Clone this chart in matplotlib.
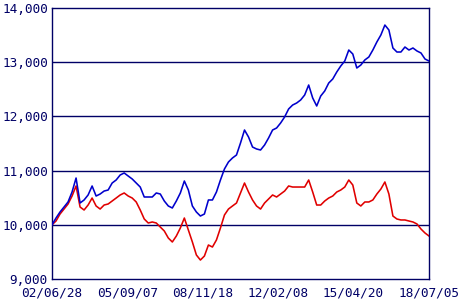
import matplotlib
matplotlib.use("Agg")
import matplotlib.pyplot as plt
import pandas as pd

start_date = "2002-06-28"
end_date = "2018-07-05"

blue_values = [
    10000, 10125, 10236, 10328, 10421, 10605, 10863, 10402, 10458, 10550,
    10716, 10531, 10568, 10623, 10642, 10771, 10827, 10919, 10956, 10900,
    10845, 10771, 10697, 10513, 10513, 10513, 10587, 10568, 10439, 10347,
    10310, 10439, 10587, 10808, 10642, 10347, 10236, 10162, 10199, 10458,
    10458, 10605, 10827, 11030, 11159, 11233, 11288, 11509, 11749, 11620,
    11435, 11399, 11380, 11472, 11602, 11749, 11786, 11878, 11989, 12137,
    12210, 12247, 12303, 12395, 12579, 12340, 12192, 12376, 12469, 12616,
    12690, 12819, 12930, 13022, 13225, 13151, 12893, 12948, 13041, 13096,
    13225, 13373, 13502, 13686, 13594, 13262, 13188, 13188, 13280, 13225,
    13262, 13207, 13170, 13059, 13022,
]

red_values = [
    10000, 10070, 10199, 10291, 10384, 10531, 10716, 10328, 10273, 10365,
    10494, 10347, 10291, 10365, 10384, 10439, 10494, 10550, 10587, 10531,
    10494, 10421, 10273, 10107, 10033, 10052, 10033, 9959, 9886, 9756,
    9683, 9793, 9941, 10125, 9904, 9683, 9443, 9350, 9424, 9627,
    9590, 9720, 9941, 10181, 10291, 10347, 10402, 10587, 10771, 10605,
    10458, 10347, 10291, 10402, 10476, 10550, 10513, 10568, 10623, 10716,
    10697, 10697, 10697, 10697, 10827, 10605, 10365, 10365, 10439, 10494,
    10531, 10605, 10642, 10697, 10827, 10734, 10402, 10347, 10421, 10421,
    10458, 10568, 10660, 10790, 10568, 10162, 10107, 10089, 10089, 10070,
    10052, 10015, 9922, 9849, 9793,
]

tick_dates = ["2002-06-28", "2005-09-07", "2008-11-18", "2012-02-08", "2015-04-20", "2018-07-05"]
tick_labels = ["02/06/28", "05/09/07", "08/11/18", "12/02/08", "15/04/20", "18/07/05"]
y_ticks = [9000, 10000, 11000, 12000, 13000, 14000]
y_labels = ["9,000", "10,000", "11,000", "12,000", "13,000", "14,000"]

navy = "#000066"

dates = pd.date_range(start_date, end_date, periods=len(blue_values))

fig = plt.figure(figsize=(4.7, 3.0), dpi=100)
ax = fig.add_axes([52 / 470, 21 / 300, 377 / 470, 271 / 300])

for yv in y_ticks[1:-1]:
    ax.axhline(yv, color=navy, lw=1.0, zorder=1)

ax.plot(dates, blue_values, color="#0000CC", lw=1.15, zorder=3)
ax.plot(dates, red_values, color="#E00000", lw=1.15, zorder=2)

ax.set_ylim(9000, 14000)
ax.set_xlim(pd.Timestamp(start_date), pd.Timestamp(end_date))
ax.set_yticks(y_ticks)
ax.set_yticklabels(y_labels)
ax.set_xticks([pd.Timestamp(d) for d in tick_dates])
ax.set_xticklabels(tick_labels)

for sp in ax.spines.values():
    sp.set_color(navy)
    sp.set_linewidth(1.0)

ax.tick_params(axis="both", length=0, colors=navy, labelsize=9.2)
ax.tick_params(axis="y", pad=3)
ax.tick_params(axis="x", pad=5.5)
for lab in ax.get_xticklabels() + ax.get_yticklabels():
    lab.set_family("DejaVu Sans Mono")
    lab.set_color(navy)

fig.savefig("out.png", dpi=100, facecolor="white")
